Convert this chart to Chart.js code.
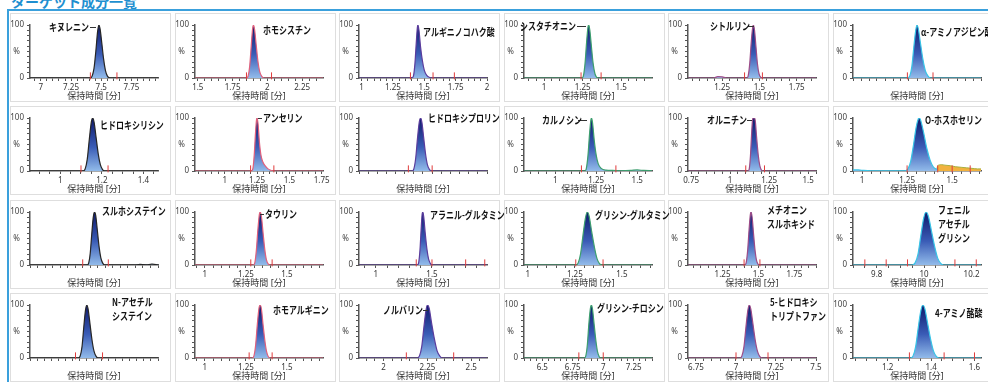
<!DOCTYPE html>
<html><head><meta charset="utf-8">
<script src="https://cdn.jsdelivr.net/npm/chart.js@4.4.0/dist/chart.umd.min.js"></script>
<style>
html,body{margin:0;padding:0;background:#fff;width:988px;height:382px;overflow:hidden;position:relative;font-family:'Noto Sans CJK JP',sans-serif;}
#title{position:absolute;left:11px;top:-9px;color:#1e8fd0;font-size:14px;font-weight:bold;white-space:nowrap;}
#frameTop{position:absolute;left:7px;top:9px;width:985px;height:2px;background:#3aa0dc;}
#frameLeft{position:absolute;left:7px;top:9px;width:2px;height:380px;background:#3aa0dc;}
.panel{position:absolute;width:161px;height:89px;background:#fff;outline:1px solid #dedede;outline-offset:-1px;}
.panel canvas{position:absolute;left:0;top:0;}
.lbl{position:absolute;font-size:10.5px;font-weight:bold;color:#111;white-space:nowrap;line-height:14px;transform:scaleX(0.76);transform-origin:0 0;z-index:2;}
.lead{position:absolute;height:1px;background:#333;}
</style></head><body>
<div id="title">ターゲット成分一覧</div>
<div id="frameTop"></div><div id="frameLeft"></div>
<script>
// ---- data ----
const names = [
 'キヌレニン','ホモシスチン','アルギニノコハク酸','シスタチオニン','シトルリン','α-アミノアジピン酸',
 'ヒドロキシリシン','アンセリン','ヒドロキシプロリン','カルノシン','オルニチン','O-ホスホセリン',
 'スルホシステイン','タウリン','アラニル-グルタミン','グリシン-グルタミン','メチオニン\nスルホキシド','フェニル\nアセチル\nグリシン',
 'N-アセチル\nシステイン','ホモアルギニン','ノルバリン','グリシン-チロシン','5-ヒドロキシ\nトリプトファン','4-アミノ酪酸'
];
const xMin = [6.91,1.48,0.98,0.87,1.02,1.21, 0.855,0.77,1.07,0.81,0.73,0.95, 1.03,0.94,0.85,0.98,1.01,9.70, 5.94,0.94,1.86,6.35,6.70,1.04];
const xMax = [7.97,2.40,2.0,1.70,1.88,2.01, 1.47,1.76,1.77,1.59,1.55,1.66, 1.88,1.72,1.99,1.66,1.90,10.24, 6.84,1.72,2.59,7.40,7.50,1.63];
const majorStep = [0.25,0.25,0.25,0.25,0.25,0.25, 0.2,0.25,0.25,0.25,0.25,0.25, 0.25,0.25,0.5,0.25,0.25,0.2, 0.25,0.25,0.25,0.25,0.25,0.2];
const minorStep = [0.05,0.05,0.05,0.05,0.05,0.05, 0.05,0.05,0.05,0.05,0.05,0.05, 0.05,0.05,0.1,0.05,0.05,0.05, 0.05,0.05,0.05,0.05,0.05,0.05];
const yTickLabels = {100:'100', 50:'%  ', 0:'0'};
const xTitle = '保持時間 [分]';

const peak01 = [[6.91,0],[7.2,0],[7.41,0],[7.425,4],[7.44,18],[7.455,50],[7.47,88],[7.48,100],[7.49,93],[7.505,65],[7.52,35],[7.535,14],[7.55,4],[7.57,0],[7.97,0]];
const peak02 = [[1.48,0],[1.85,0],[1.862,4],[1.873,22],[1.884,60],[1.894,93],[1.90,100],[1.908,92],[1.92,62],[1.932,32],[1.945,12],[1.96,3],[1.975,0],[2.40,0]];
const peak03 = [[0.98,0],[1.40,0],[1.415,5],[1.426,28],[1.436,65],[1.445,95],[1.45,100],[1.458,90],[1.47,60],[1.485,33],[1.50,15],[1.52,5],[1.545,1],[1.56,0],[2.0,0]];
const peak04 = [[0.87,0],[1.245,0],[1.256,5],[1.266,28],[1.276,68],[1.285,96],[1.29,100],[1.297,90],[1.307,60],[1.318,28],[1.33,8],[1.342,1],[1.35,0],[1.70,0]];
const peak05 = [[1.02,0],[1.19,0],[1.22,2.5],[1.25,2],[1.28,0],[1.415,0],[1.425,5],[1.435,28],[1.445,68],[1.455,96],[1.46,100],[1.467,90],[1.477,58],[1.487,26],[1.497,8],[1.51,1],[1.52,0],[1.88,0]];
const peak06 = [[1.21,0],[1.55,0],[1.565,4],[1.578,22],[1.59,58],[1.602,90],[1.61,100],[1.618,93],[1.632,65],[1.647,35],[1.662,14],[1.678,4],[1.695,0],[2.01,0]];
const peak07 = [[0.855,0],[1.11,0],[1.12,4],[1.13,22],[1.14,60],[1.15,93],[1.156,100],[1.163,92],[1.173,62],[1.183,32],[1.193,12],[1.203,3],[1.212,0],[1.47,0]];
const peak08 = [[0.77,0],[1.205,0],[1.218,5],[1.228,30],[1.238,72],[1.246,97],[1.251,100],[1.258,88],[1.268,55],[1.28,30],[1.295,17],[1.315,9],[1.335,4],[1.36,1],[1.38,0],[1.76,0]];
const peak09 = [[1.07,0],[1.36,0],[1.37,4],[1.38,24],[1.39,62],[1.40,93],[1.407,100],[1.414,92],[1.424,62],[1.434,32],[1.444,12],[1.455,3],[1.465,0],[1.77,0]];
const peak10 = [[0.81,0],[1.18,0],[1.19,5],[1.2,30],[1.21,72],[1.218,97],[1.222,100],[1.228,90],[1.238,58],[1.25,30],[1.262,14],[1.28,5],[1.31,1.5],[1.35,1],[1.40,0.5],[1.46,1],[1.50,2],[1.54,1],[1.59,0.5]];
const peak11 = [[0.73,0],[1.115,0],[1.123,5],[1.13,28],[1.137,68],[1.143,95],[1.147,100],[1.157,100],[1.162,92],[1.17,62],[1.18,30],[1.19,10],[1.2,2],[1.21,0],[1.55,0]];
const peak12 = [[0.95,2],[0.98,2],[1.01,1],[1.05,0.5],[1.24,0.5],[1.255,4],[1.27,18],[1.285,48],[1.30,82],[1.312,98],[1.318,100],[1.326,95],[1.342,72],[1.36,42],[1.378,20],[1.395,8],[1.41,4],[1.42,3]];
const peak12b = [[1.415,3],[1.42,10],[1.44,12],[1.46,11],[1.49,10],[1.52,8],[1.55,7],[1.58,6],[1.61,5],[1.64,4],[1.66,4]];
const peak13 = [[1.03,0],[1.41,0],[1.42,4],[1.43,22],[1.44,58],[1.45,90],[1.458,100],[1.466,94],[1.477,66],[1.488,36],[1.5,14],[1.512,4],[1.525,0],[1.72,0],[1.76,1],[1.8,0.5],[1.84,1.5],[1.88,0.5]];
const peak14 = [[0.94,0],[1.295,0],[1.305,5],[1.314,28],[1.323,66],[1.332,95],[1.338,100],[1.345,91],[1.355,60],[1.365,30],[1.375,10],[1.386,2],[1.395,0],[1.72,0]];
const peak15 = [[0.85,0],[1.37,0],[1.382,5],[1.393,28],[1.403,66],[1.412,95],[1.418,100],[1.426,92],[1.44,60],[1.455,30],[1.47,11],[1.485,3],[1.5,0],[1.99,0]];
const peak16 = [[0.98,0],[1.255,0],[1.268,4],[1.28,20],[1.293,55],[1.306,88],[1.316,100],[1.326,92],[1.34,62],[1.355,32],[1.368,12],[1.38,3],[1.393,0],[1.66,0]];
const peak17 = [[1.01,0],[1.405,0],[1.415,5],[1.425,28],[1.435,68],[1.444,96],[1.449,100],[1.456,90],[1.466,58],[1.476,28],[1.486,9],[1.496,2],[1.505,0],[1.90,0]];
const peak18 = [[9.70,0],[9.95,0],[9.962,4],[9.974,20],[9.986,55],[9.998,88],[10.008,100],[10.018,92],[10.032,62],[10.046,32],[10.058,12],[10.07,3],[10.082,0],[10.24,0]];
const peak19 = [[5.94,0],[6.28,0],[6.293,4],[6.306,22],[6.318,58],[6.33,90],[6.339,100],[6.348,93],[6.362,64],[6.376,34],[6.39,13],[6.405,3],[6.42,0],[6.84,0]];
const peak20 = [[0.94,0],[1.29,0],[1.3,5],[1.31,26],[1.32,64],[1.33,94],[1.337,100],[1.345,92],[1.355,62],[1.366,32],[1.377,11],[1.388,2],[1.398,0],[1.72,0]];
const peak21 = [[1.86,0],[2.19,0],[2.205,4],[2.218,22],[2.23,58],[2.242,90],[2.25,100],[2.26,94],[2.274,66],[2.29,36],[2.305,14],[2.32,4],[2.335,0],[2.59,0]];
const peak22 = [[6.35,0],[6.845,0],[6.858,5],[6.87,26],[6.882,64],[6.895,94],[6.903,100],[6.912,92],[6.926,62],[6.94,32],[6.953,12],[6.966,3],[6.978,0],[7.40,0]];
const peak23 = [[6.70,0],[7.025,0],[7.037,4],[7.05,22],[7.062,58],[7.074,90],[7.083,100],[7.092,93],[7.106,64],[7.12,34],[7.134,13],[7.148,3],[7.162,0],[7.50,0]];
const peak24 = [[1.04,0],[1.305,0],[1.317,4],[1.329,22],[1.341,58],[1.353,90],[1.362,100],[1.371,93],[1.385,63],[1.399,33],[1.412,12],[1.424,3],[1.436,0],[1.63,0]];

const markers = [
 [7.41,7.63],[1.85,2.03],[1.39,1.57,1.74],[1.24,1.37],[1.40,1.52],[1.55,1.71],
 [1.10,1.23],[1.20,1.38],[1.34,1.47],[1.16,1.37],[1.10,1.22],[1.25,1.42,1.50,1.60],
 [1.38,1.55],[1.28,1.41],[1.36,1.50,1.80,1.97],[1.255,1.40],[1.40,1.51],[9.75,9.84,9.93,10.13,10.22],
 [6.26,6.45],[1.27,1.41],[2.13,2.40],[6.80,7.00],[7.00,7.20],[1.30,1.46,1.60]
];

// ---- layout / style (not data) ----
const peaks = [peak01,peak02,peak03,peak04,peak05,peak06,peak07,peak08,peak09,peak10,peak11,peak12,
               peak13,peak14,peak15,peak16,peak17,peak18,peak19,peak20,peak21,peak22,peak23,peak24];
const lineColors = ['#262626','#e0607c','#5a3c9c','#3c9e6e','#9c4c88','#38c4e6'];
const labelPos = [[39,7],[88,10],[84,12],[16,6],[42,6],[88,12],
                  [90,12],[88,5],[89,5],[38,7],[39,7],[92,7],
                  [92,4],[90,7],[91,8],[91,8],[99,3],[105,3],
                  [102,2],[98,10],[44,10],[93,8],[102,2],[102,13]];
const leaders = {0:[80,14,6],3:[73,13,9],4:[80,13,6],7:[83,12,4],9:[74,14,9],10:[79,14,5],13:[85,14,4],20:[84,17,5]};

Chart.defaults.font.family = "'Noto Sans','Noto Sans CJK JP',sans-serif";
Chart.defaults.animation = false;

function peakFill(ctx){
  const ch = ctx.chart, a = ch.chartArea;
  if(!a) return 'rgba(0,0,0,0)';
  const g = ch.ctx.createLinearGradient(0,a.top,0,a.bottom);
  g.addColorStop(0,'#0e186a'); g.addColorStop(0.55,'#3a5cb6'); g.addColorStop(1,'#92bbea');
  return g;
}

for(let i=0;i<24;i++){
  const r = Math.floor(i/6), c = i%6;
  const panel = document.createElement('div');
  panel.className = 'panel';
  panel.style.left = (10 + c*164.6)+'px';
  panel.style.top = (13 + r*93.3)+'px';
  const cv = document.createElement('canvas');
  cv.width = 161; cv.height = 89; cv.style.width='161px'; cv.style.height='89px';
  panel.appendChild(cv);
  const lb = document.createElement('div');
  lb.className = 'lbl';
  lb.style.left = labelPos[i][0]+'px'; lb.style.top = labelPos[i][1]+'px';
  lb.innerHTML = names[i].split('\n').join('<br>');
  panel.appendChild(lb);
  if(leaders[i]){
    const l = document.createElement('div'); l.className='lead';
    l.style.left = leaders[i][0]+'px'; l.style.top = leaders[i][1]+'px'; l.style.width = leaders[i][2]+'px';
    panel.appendChild(l);
  }
  document.body.appendChild(panel);

  const ds = [{
    type:'line',
    data: peaks[i].map(p=>({x:p[0],y:p[1]})),
    borderColor: lineColors[c], borderWidth:1.2, pointRadius:0,
    fill:'origin', backgroundColor: peakFill, cubicInterpolationMode:'monotone', order:2
  },{
    type:'scatter',
    data: markers[i].map(t=>({x:t,y:4})),
    pointStyle:'line', pointRotation:90, pointRadius:3.5,
    pointBorderColor:'#e03c3c', pointBorderWidth:1, showLine:false, clip:false, order:1
  }];
  if(i===11){
    ds.push({type:'line', data: peak12b.map(p=>({x:p[0],y:p[1]})), borderColor:'#a8b040', borderWidth:1,
      pointRadius:0, fill:'origin', backgroundColor:'#f1b23e', cubicInterpolationMode:'monotone', order:3});
  }
  const mj = majorStep[i];
  new Chart(cv, {
    data:{datasets:ds},
    options:{
      responsive:false, devicePixelRatio:1, animation:false,
      layout:{padding:{left:0,right:13,top:12,bottom:0}},
      plugins:{legend:{display:false},tooltip:{enabled:false}},
      scales:{
        x:{type:'linear', min:xMin[i], max:xMax[i],
          afterFit:s=>{s.height=24;},
          border:{color:'#555',width:1.5},
          grid:{drawOnChartArea:false, drawTicks:true, tickLength:3, tickColor:'#555'},
          ticks:{stepSize:minorStep[i], autoSkip:false, includeBounds:false, maxRotation:0, minRotation:0,
            padding:2, color:'#333', font:{size:8},
            callback:v=>{const k=v/mj; return Math.abs(k-Math.round(k))<1e-6 ? String(+v.toFixed(3)) : '';}},
          title:{display:true, text:xTitle, color:'#333', font:{size:9}, padding:{top:0,bottom:0}}
        },
        y:{type:'linear', min:0, max:100,
          afterFit:s=>{s.width=20;},
          border:{color:'#555',width:1.5},
          grid:{drawOnChartArea:false, drawTicks:true, tickLength:3, tickColor:'#555'},
          ticks:{stepSize:10, autoSkip:false, padding:3, color:'#444', font:{size:8},
            callback:v=> (yTickLabels[v]!==undefined ? yTickLabels[v] : '')}
        }
      }
    }
  });
}
</script>
</body></html>
